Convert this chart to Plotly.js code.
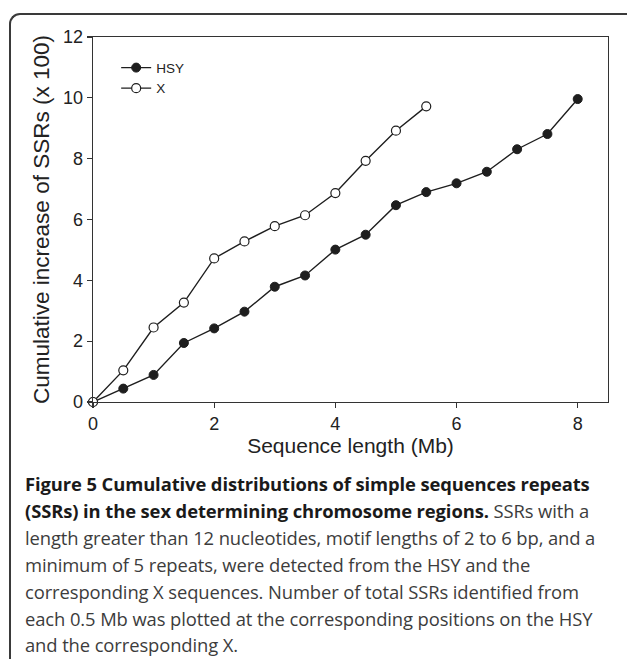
<!DOCTYPE html>
<html>
<head>
<meta charset="utf-8">
<script src="https://cdn.plot.ly/plotly-3.0.1.min.js"></script>
<style>
  html, body { margin: 0; padding: 0; background: #fff; }
  #wrap { position: relative; width: 627px; height: 659px; overflow: hidden; }
  #chart { position: absolute; left: 0; top: 0; width: 627px; height: 659px; }
  #frame { position: absolute; left: 9px; top: 13px; width: 700px; height: 700px;
           border-left: 2px solid #3a3a3a; border-top: 2px solid #3a3a3a;
           border-top-left-radius: 11px; pointer-events: none; box-sizing: border-box; }
  #caption { position: absolute; left: 25px; top: 471px; font-family: "Open Sans", "Noto Sans", sans-serif;
             font-size: 18.4px; line-height: 26.9px; color: #3c3c3c; white-space: nowrap; letter-spacing: -0.1px; }
  #caption b { color: #1a1a1a; font-weight: 700; }
</style>
</head>
<body>
<div id="wrap">
  <div id="chart"></div>
  <div id="frame"></div>
  <div id="caption"><b>Figure 5 Cumulative distributions of simple sequences repeats</b><br><b>(SSRs) in the sex determining chromosome regions.</b> SSRs with a<br>length greater than 12 nucleotides, motif lengths of 2 to 6 bp, and a<br>minimum of 5 repeats, were detected from the HSY and the<br>corresponding X sequences. Number of total SSRs identified from<br>each 0.5 Mb was plotted at the corresponding positions on the HSY<br>and the corresponding X.</div>
</div>
<script>
// Data
var hsyLength = [0, 0.5, 1, 1.5, 2, 2.5, 3, 3.5, 4, 4.5, 5, 5.5, 6, 6.5, 7, 7.5, 8];
var hsyValues = [0, 0.44, 0.89, 1.94, 2.42, 2.97, 3.79, 4.16, 5.01, 5.50, 6.47, 6.90, 7.19, 7.57, 8.31, 8.81, 9.96];
var xLength = [0, 0.5, 1, 1.5, 2, 2.5, 3, 3.5, 4, 4.5, 5, 5.5];
var xValues = [0, 1.04, 2.45, 3.27, 4.72, 5.28, 5.78, 6.14, 6.87, 7.93, 8.92, 9.72];
var seriesNames = ["HSY", "X"];
var xTicks = [0, 2, 4, 6, 8];
var yTicks = [0, 2, 4, 6, 8, 10, 12];

var lineColor = "#1e1e1e";
var traces = [
  { x: hsyLength, y: hsyValues, name: seriesNames[0], type: "scatter", mode: "lines+markers",
    line: { color: lineColor, width: 1.4 },
    marker: { symbol: "circle", size: 9, color: lineColor, line: { color: lineColor, width: 1 } },
    cliponaxis: false },
  { x: xLength, y: xValues, name: seriesNames[1], type: "scatter", mode: "lines+markers",
    line: { color: lineColor, width: 1.4 },
    marker: { symbol: "circle", size: 9, color: "#ffffff", line: { color: lineColor, width: 1.2 } },
    cliponaxis: false }
];

var axisFont = { family: "Liberation Sans, Arial, sans-serif", size: 18, color: "#222" };
var layout = {
  width: 627, height: 659,
  margin: { l: 93, r: 19, t: 37, b: 257, pad: 0 },
  paper_bgcolor: "rgba(0,0,0,0)",
  plot_bgcolor: "rgba(0,0,0,0)",
  font: axisFont,
  showlegend: true,
  legend: { x: 0.045, y: 0.958, xanchor: "left", yanchor: "top", bgcolor: "rgba(0,0,0,0)",
            font: { family: "Liberation Sans, Arial, sans-serif", size: 13.5, color: "#222" } },
  xaxis: {
    range: [0, 8.5], tickvals: xTicks, ticktext: xTicks.map(String),
    showgrid: false, zeroline: false, showline: true, linecolor: "#333", linewidth: 1.3,
    mirror: true, ticks: "outside", ticklen: 5, tickwidth: 1.2, tickcolor: "#333",
    tickfont: axisFont,
    title: { text: "Sequence length (Mb)", font: { family: "Liberation Sans, Arial, sans-serif", size: 21, color: "#222" }, standoff: 5 }
  },
  yaxis: {
    range: [0, 12], tickvals: yTicks, ticktext: yTicks.map(String),
    showgrid: false, zeroline: false, showline: true, linecolor: "#333", linewidth: 1.3,
    mirror: true, ticks: "outside", ticklen: 5, tickwidth: 1.2, tickcolor: "#333",
    tickfont: axisFont,
    title: { text: "Cumulative increase of SSRs (x 100)", font: { family: "Liberation Sans, Arial, sans-serif", size: 22.5, color: "#222" }, standoff: 7 }
  }
};

Plotly.newPlot("chart", traces, layout, { displayModeBar: false, staticPlot: true });
</script>
</body>
</html>
